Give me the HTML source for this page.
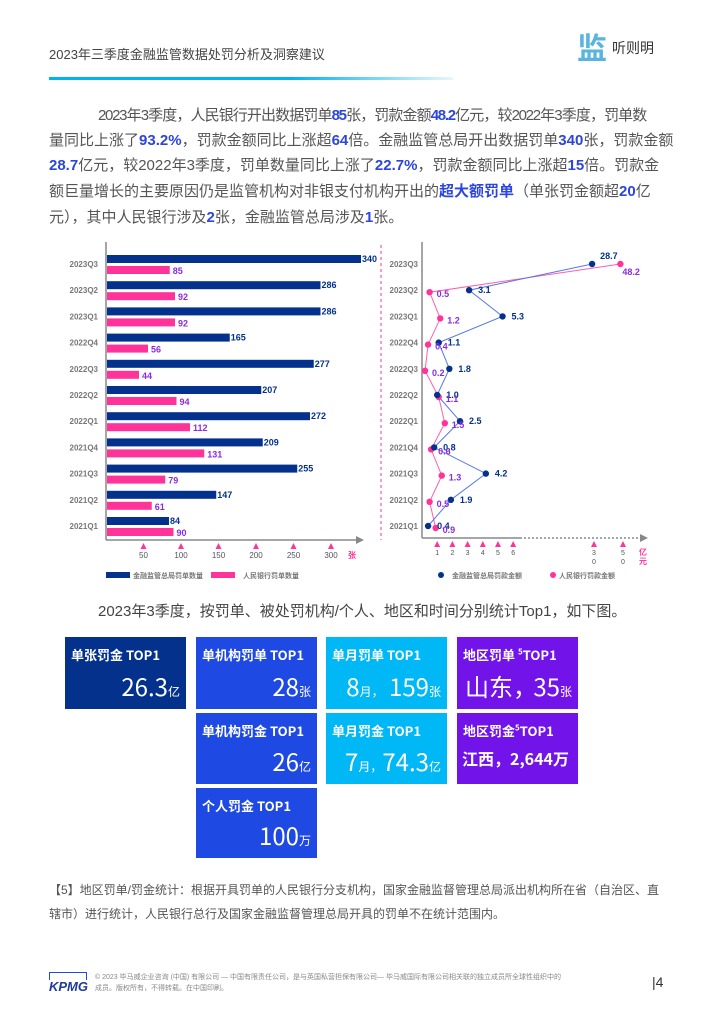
<!DOCTYPE html>
<html><head><meta charset="utf-8">
<style>
body{margin:0;width:710px;height:1025px;background:#fff;position:relative;font-family:"Liberation Sans","Noto Sans CJK SC",sans-serif;color:#555;overflow:hidden}
.abs{position:absolute}
.p{position:absolute;left:49px;width:597px;font-size:15px;line-height:16px;text-align:justify;text-align-last:justify;white-space:nowrap;color:#555}
.p b{color:#2b45e0}
.card{position:absolute;width:121px;color:#fff;font-family:"Noto Sans CJK SC",sans-serif}
.card .t{position:absolute;left:6px;top:8px;font-size:13px;font-weight:bold}
.card .v{position:absolute;right:6px;bottom:6px;font-size:24px;white-space:nowrap}
.card .v small{font-size:12px}
</style></head><body>
<div class="abs" style="left:49px;top:44px;font-size:13px;color:#444">2023年三季度金融监管数据处罚分析及洞察建议</div>
<div class="abs" style="left:577px;top:24px;font-size:30px;color:#5ab4e0;font-family:'Noto Sans CJK SC',sans-serif;font-weight:bold">监</div>
<div class="abs" style="left:612px;top:38px;font-size:14px;color:#333">听则明</div>
<div class="abs" style="left:49px;top:77px;width:404px;height:3px;background:linear-gradient(90deg,#00b4ef 60%,#e8f6fd)"></div>

<div class="p" style="top:108px;left:98px;width:548px;letter-spacing:-1.3px">2023年3季度，人民银行开出数据罚单<b>85</b>张，罚款金额<b>48.2</b>亿元，较2022年3季度，罚单数</div>
<div class="p" style="top:133px">量同比上涨了<b>93.2%</b>，罚款金额同比上涨超<b>64</b>倍。金融监管总局开出数据罚单<b>340</b>张，罚款金额</div>
<div class="p" style="top:158px"><b>28.7</b>亿元，较2022年3季度，罚单数量同比上涨了<b>22.7%</b>，罚款金额同比上涨超<b>15</b>倍。罚款金</div>
<div class="p" style="top:184px">额巨量增长的主要原因仍是监管机构对非银支付机构开出的<b>超大额罚单</b>（单张罚金额超<b>20</b>亿</div>
<div class="p" style="top:210px;text-align-last:left">元），其中人民银行涉及<b>2</b>张，金融监管总局涉及<b>1</b>张。</div>

<svg class="abs" style="left:0;top:240px" width="710" height="350" id="charts"></svg>

<div class="abs" style="left:98px;top:600px;font-size:15px;color:#444">2023年3季度，按罚单、被处罚机构/个人、地区和时间分别统计Top1，如下图。</div>

<div class="card" style="left:65px;top:637px;height:72px;background:#03318c"><div class="t">单张罚金 TOP1</div><div class="v">26.3<small>亿</small></div></div>
<div class="card" style="left:196px;top:637px;height:72px;background:#1e49e2"><div class="t">单机构罚单 TOP1</div><div class="v">28<small>张</small></div></div>
<div class="card" style="left:326px;top:637px;height:72px;background:#00b8f5"><div class="t">单月罚单 TOP1</div><div class="v">8<small>月，</small> 159<small>张</small></div></div>
<div class="card" style="left:457px;top:637px;height:72px;background:#7213ea"><div class="t">地区罚单 <sup style="font-size:8px">5</sup>TOP1</div><div class="v" style="left:8px;right:auto">山东，</div><div class="v">35<small>张</small></div></div>
<div class="card" style="left:196px;top:713px;height:71px;background:#1e49e2"><div class="t">单机构罚金 TOP1</div><div class="v">26<small>亿</small></div></div>
<div class="card" style="left:326px;top:713px;height:71px;background:#00b8f5"><div class="t">单月罚金 TOP1</div><div class="v">7<small>月，</small>74.3<small>亿</small></div></div>
<div class="card" style="left:457px;top:713px;height:71px;background:#7213ea"><div class="t">地区罚金<sup style="font-size:8px">5</sup>TOP1</div><div class="v" style="left:5px;right:auto;font-size:16px;bottom:14px;font-weight:bold">江西，2,644万</div></div>
<div class="card" style="left:196px;top:788px;height:70px;background:#1e49e2"><div class="t">个人罚金 TOP1</div><div class="v">100<small>万</small></div></div>

<div class="abs" style="left:49px;top:878px;width:610px;font-size:12px;line-height:24px;color:#555;white-space:nowrap">【5】地区罚单/罚金统计：根据开具罚单的人民银行分支机构，国家金融监督管理总局派出机构所在省（自治区、直<br>辖市）进行统计，人民银行总行及国家金融监督管理总局开具的罚单不在统计范围内。</div>

<div class="abs" style="left:49px;top:972px;width:36px;height:7px;border:1px solid #1e49e2;border-bottom:none"></div>
<div class="abs" style="left:49px;top:979px;font-size:13px;font-weight:bold;font-style:italic;color:#1e3a9e">KPMG</div>
<div class="abs" style="left:95px;top:972px;width:545px;font-size:7px;line-height:11px;color:#888">© 2023 毕马威企业咨询 (中国) 有限公司 — 中国有限责任公司，是与英国私营担保有限公司— 毕马威国际有限公司相关联的独立成员所全球性组织中的<br>成员。版权所有，不得转载。在中国印刷。</div>
<div class="abs" style="left:652px;top:974px;font-size:14px;color:#333">|4</div>

<script>
const quarters=['2023Q3','2023Q2','2023Q1','2022Q4','2022Q3','2022Q2','2022Q1','2021Q4','2021Q3','2021Q2','2021Q1'];
const nfraCount=[340,286,286,165,277,207,272,209,255,147,84];
const pbocCount=[85,92,92,56,44,94,112,131,79,61,90];
const nfraAmt=[28.7,3.1,5.3,1.1,1.8,1.0,2.5,0.8,4.2,1.9,0.4];
const pbocAmt=[48.2,0.5,1.2,0.4,0.2,1.1,1.5,0.6,1.3,0.5,0.9];
const countTicks=[50,100,150,200,250,300];
const amtTicks=[1,2,3,4,5,6,30,50];
const svg=document.getElementById('charts');
const NS='http://www.w3.org/2000/svg';
function mk(tag,attrs,txt){const e=document.createElementNS(NS,tag);for(const k in attrs)e.setAttribute(k,attrs[k]);if(txt!==undefined)e.textContent=txt;svg.appendChild(e);return e;}
const oy=240;
const rowY=i=>264-oy+i*26.2;
const xBar=v=>106+v*0.75;
const xAmt=v=>v<=6?422+v*15.2:594+(v-30)*1.45;
let e;
e=mk('line',{x1:106,y1:2,x2:106,y2:300,stroke:'#888','stroke-width':1.5});

e=mk('line',{x1:106,y1:300,x2:358,y2:300,stroke:'#888','stroke-width':1.5});

e=mk('path',{d:'M356,296 L364,300 L356,304 Z',fill:'#888'});

quarters.forEach((q,i)=>{
  const y=rowY(i);
  e=mk('text',{x:98,y:y+3,'font-size':8,'font-weight':'bold',fill:'#777','text-anchor':'end'},q);
  
  e=mk('rect',{x:107,y:y-9,width:xBar(nfraCount[i])-107,height:8,fill:'#03318c'});
  
  e=mk('text',{x:xBar(nfraCount[i])+1,y:y-2,'font-size':9,'font-weight':'bold',fill:'#03318c'},nfraCount[i]);
  
  e=mk('rect',{x:107,y:y+2,width:xBar(pbocCount[i])-107,height:8,fill:'#ff3399'});
  
  e=mk('text',{x:xBar(pbocCount[i])+3,y:y+10,'font-size':9,'font-weight':'bold',fill:'#8a2be2'},pbocCount[i]);
  
});
countTicks.forEach(t=>{
  const x=xBar(t);
  e=mk('path',{d:`M${x-3},309 L${x},303 L${x+3},309 Z`,fill:'#ff3399'});
  
  e=mk('text',{x:x,y:318,'font-size':8,fill:'#555','text-anchor':'middle'},t);
  
});
e=mk('text',{x:352,y:318,'font-size':8,fill:'#ff3399','font-weight':'bold','text-anchor':'middle'},'张');

e=mk('rect',{x:106,y:332,width:24,height:6,fill:'#03318c'});

e=mk('text',{x:133,y:338,'font-size':7,fill:'#777','font-weight':'bold'},'金融监管总局罚单数量');

e=mk('rect',{x:211,y:332,width:24,height:6,fill:'#ff3399'});

e=mk('text',{x:243,y:338,'font-size':7,fill:'#777','font-weight':'bold'},'人民银行罚单数量');

e=mk('line',{x1:381,y1:5,x2:381,y2:300,stroke:'#ff3399','stroke-width':1,'stroke-dasharray':'3,3'});

e=mk('line',{x1:422,y1:2,x2:422,y2:298,stroke:'#888','stroke-width':1.5});

e=mk('line',{x1:422,y1:298,x2:520,y2:298,stroke:'#888','stroke-width':1.5});

e=mk('line',{x1:520,y1:298,x2:640,y2:298,stroke:'#888','stroke-width':1.5,'stroke-dasharray':'2,2'});

e=mk('path',{d:'M640,294 L648,298 L640,302 Z',fill:'#888'});

quarters.forEach((q,i)=>{
  e=mk('text',{x:418,y:rowY(i)+3,'font-size':8,'font-weight':'bold',fill:'#777','text-anchor':'end'},q);
  
});
const ptsB=nfraAmt.map((v,i)=>xAmt(v)+','+rowY(i)).join(' ');
const ptsP=pbocAmt.map((v,i)=>xAmt(v)+','+(rowY(i)+(i==0?0:2))).join(' ');
e=mk('polyline',{points:ptsP,fill:'none',stroke:'#ff5fa8','stroke-width':1});

e=mk('polyline',{points:ptsB,fill:'none',stroke:'#5577ee','stroke-width':1});

quarters.forEach((q,i)=>{
  const y=rowY(i);
  const xb=xAmt(nfraAmt[i]),xp=xAmt(pbocAmt[i]),yp=y+(i==0?0:2);
  e=mk('circle',{cx:xp,cy:yp,r:3.2,fill:'#ff3399'});
  
  e=mk('circle',{cx:xb,cy:y,r:3.2,fill:'#03318c'});
  
  e=mk('text',{x:i==0?xb+8:xb+9,y:i==0?y-5:y+3,'font-size':9,'font-weight':'bold',fill:'#03318c'},nfraAmt[i].toFixed(1));
  
  e=mk('text',{x:i==0?xp+2:xp+7,y:i==0?y+11:yp+5,'font-size':9,'font-weight':'bold',fill:'#8a2be2'},pbocAmt[i].toFixed(1));
  
});
amtTicks.forEach(t=>{
  const x=xAmt(t);
  e=mk('path',{d:`M${x-3},307 L${x},301 L${x+3},307 Z`,fill:'#ff3399'});
  
  const s=String(t);
  if(s.length==1){e=mk('text',{x:x,y:315,'font-size':7,fill:'#555','text-anchor':'middle'},s);}
  else{e=mk('text',{x:x,y:315,'font-size':7,fill:'#555','text-anchor':'middle'},s[0]);
    
    e=mk('text',{x:x,y:324,'font-size':7,fill:'#555','text-anchor':'middle'},s[1]);}
  
});
e=mk('text',{x:643,y:315,'font-size':8,fill:'#ff3399','font-weight':'bold','text-anchor':'middle'},'亿');

e=mk('text',{x:643,y:324,'font-size':8,fill:'#ff3399','font-weight':'bold','text-anchor':'middle'},'元');

e=mk('circle',{cx:441,cy:335,r:3,fill:'#03318c'});

e=mk('text',{x:452,y:338,'font-size':7,fill:'#777','font-weight':'bold'},'金融监管总局罚款金额');

e=mk('circle',{cx:553,cy:335,r:3,fill:'#ff3399'});

e=mk('text',{x:559,y:338,'font-size':7,fill:'#777','font-weight':'bold'},'人民银行罚款金额');

</script>
</body></html>
